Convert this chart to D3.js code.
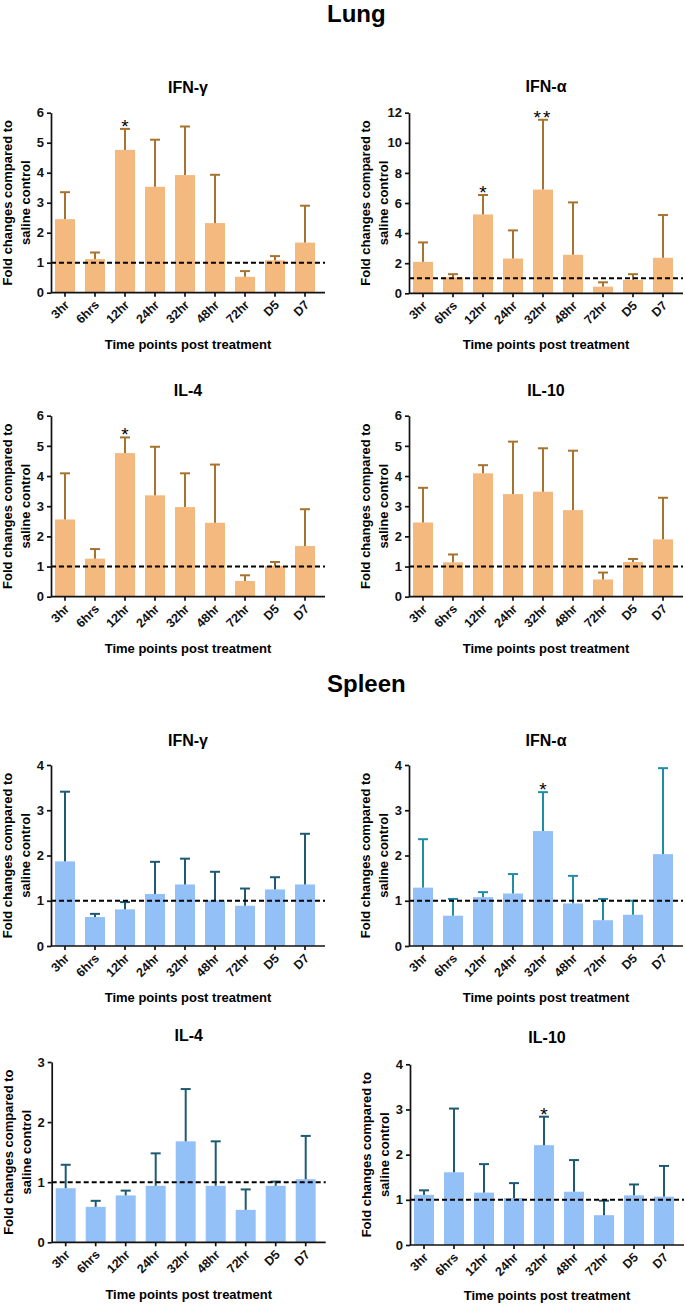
<!DOCTYPE html>
<html>
<head>
<meta charset="utf-8">
<script src="https://cdn.jsdelivr.net/npm/d3@7"></script>
<style>
  body { margin: 0; background: #fff; }
  svg { display: block; font-family: "Liberation Sans", Arial, sans-serif; font-weight: bold; }
</style>
</head>
<body>
<div id="chart"></div>
<script>
// time points on every x axis
const timepoints = ["3hr", "6hrs", "12hr", "24hr", "32hr", "48hr", "72hr", "D5", "D7"];

// Lung (mean fold change, error bar = SEM)
const lungIFNg = [2.45, 1.12, 4.76, 3.53, 3.92, 2.32, 0.53, 1.08, 1.67];
const lungIFNgErr = [0.90, 0.22, 0.70, 1.57, 1.62, 1.61, 0.19, 0.14, 1.23];
const lungIFNgSig = ["", "", "*", "", "", "", "", "", ""];

const lungIFNa = [2.09, 1.07, 5.24, 2.31, 6.89, 2.56, 0.44, 0.89, 2.36];
const lungIFNaErr = [1.29, 0.20, 1.29, 1.87, 4.64, 3.48, 0.29, 0.38, 2.84];
const lungIFNaSig = ["", "", "*", "", "**", "", "", "", ""];

const lungIL4 = [2.56, 1.26, 4.76, 3.36, 2.97, 2.45, 0.52, 1.02, 1.68];
const lungIL4Err = [1.53, 0.32, 0.52, 1.61, 1.12, 1.93, 0.19, 0.13, 1.22];
const lungIL4Sig = ["", "", "*", "", "", "", "", "", ""];

const lungIL10 = [2.46, 1.14, 4.09, 3.40, 3.48, 2.87, 0.57, 1.15, 1.90];
const lungIL10Err = [1.15, 0.26, 0.27, 1.74, 1.44, 1.97, 0.23, 0.10, 1.38];
const lungIL10Sig = ["", "", "", "", "", "", "", "", ""];

// Spleen
const spleenIFNg = [1.87, 0.64, 0.81, 1.15, 1.36, 1.01, 0.89, 1.25, 1.36];
const spleenIFNgErr = [1.54, 0.07, 0.16, 0.71, 0.57, 0.63, 0.38, 0.27, 1.12];
const spleenIFNgSig = ["", "", "", "", "", "", "", "", ""];

const spleenIFNa = [1.29, 0.67, 1.08, 1.16, 2.54, 0.94, 0.57, 0.69, 2.03];
const spleenIFNaErr = [1.07, 0.37, 0.11, 0.43, 0.86, 0.61, 0.47, 0.31, 1.90];
const spleenIFNaSig = ["", "", "", "", "*", "", "", "", ""];

const spleenIL4 = [0.90, 0.59, 0.78, 0.94, 1.68, 0.94, 0.54, 0.94, 1.05];
const spleenIL4Err = [0.39, 0.10, 0.08, 0.54, 0.87, 0.74, 0.34, 0.07, 0.72];
const spleenIL4Sig = ["", "", "", "", "", "", "", "", ""];

const spleenIL10 = [1.11, 1.61, 1.16, 1.04, 2.21, 1.18, 0.66, 1.10, 1.07];
const spleenIL10Err = [0.10, 1.41, 0.63, 0.33, 0.63, 0.70, 0.32, 0.24, 0.68];
const spleenIL10Sig = ["", "", "", "", "*", "", "", "", ""];

const yMax = [6, 12, 6, 6, 4, 4, 3, 4];
const yStep = [1, 2, 1, 1, 1, 1, 1, 1];

const lungFill = "#f3b97f", lungErr = "#a8732f";
const spleenFill = "#94c0f8", spleenErr = "#1e5a72", spleenErr2 = "#1f8da6";

const panels = [
  { title: "IFN-\u03b3", mean: lungIFNg, err: lungIFNgErr, sig: lungIFNgSig, ax: 51, top: 112.7, bottom: 292.7, titleY: 92.7, xTitleY: 349, fill: lungFill, stroke: lungErr },
  { title: "IFN-\u03b1", mean: lungIFNa, err: lungIFNaErr, sig: lungIFNaSig, ax: 409, top: 112.7, bottom: 293.3, titleY: 92, xTitleY: 349, fill: lungFill, stroke: lungErr },
  { title: "IL-4", mean: lungIL4, err: lungIL4Err, sig: lungIL4Sig, ax: 51, top: 415.7, bottom: 596.7, titleY: 395.7, xTitleY: 652.7, fill: lungFill, stroke: lungErr },
  { title: "IL-10", mean: lungIL10, err: lungIL10Err, sig: lungIL10Sig, ax: 409, top: 415.7, bottom: 596.7, titleY: 395.7, xTitleY: 652.7, fill: lungFill, stroke: lungErr },
  { title: "IFN-\u03b3", mean: spleenIFNg, err: spleenIFNgErr, sig: spleenIFNgSig, ax: 51, top: 765, bottom: 946, titleY: 746, xTitleY: 1001.7, fill: spleenFill, stroke: spleenErr },
  { title: "IFN-\u03b1", mean: spleenIFNa, err: spleenIFNaErr, sig: spleenIFNaSig, ax: 409, top: 765, bottom: 946, titleY: 746, xTitleY: 1001.7, fill: spleenFill, stroke: spleenErr2 },
  { title: "IL-4", mean: spleenIL4, err: spleenIL4Err, sig: spleenIL4Sig, ax: 51.7, top: 1062, bottom: 1242.3, titleY: 1040.7, xTitleY: 1299, fill: spleenFill, stroke: spleenErr },
  { title: "IL-10", mean: spleenIL10, err: spleenIL10Err, sig: spleenIL10Sig, ax: 410, top: 1064.3, bottom: 1245, titleY: 1042.7, xTitleY: 1300, fill: spleenFill, stroke: spleenErr }
];

const svg = d3.select("#chart").append("svg")
  .attr("width", 685)
  .attr("height", 1305);

svg.append("text").attr("x", 327).attr("y", 22).attr("font-size", 24).text("Lung");
svg.append("text").attr("x", 327).attr("y", 692).attr("font-size", 24).text("Spleen");

panels.forEach((p, i) => {
  const g = svg.append("g");
  const axisLen = 274;

  const x = d3.scaleBand()
    .domain(timepoints)
    .range([p.ax, p.ax + 268])
    .paddingInner(1 / 3)
    .paddingOuter(0.133);

  const y = d3.scaleLinear()
    .domain([0, yMax[i]])
    .range([p.bottom, p.top]);

  // bars
  g.selectAll("rect.bar")
    .data(p.mean)
    .join("rect")
    .attr("class", "bar")
    .attr("x", (d, j) => x(timepoints[j]))
    .attr("width", x.bandwidth())
    .attr("y", (d) => y(d))
    .attr("height", (d) => y(0) - y(d))
    .attr("fill", p.fill);

  // error bars (upper only)
  const eb = g.selectAll("g.err")
    .data(p.mean)
    .join("g")
    .attr("class", "err")
    .attr("stroke", p.stroke)
    .attr("stroke-width", 2);

  eb.append("line")
    .attr("x1", (d, j) => x(timepoints[j]) + x.bandwidth() / 2)
    .attr("x2", (d, j) => x(timepoints[j]) + x.bandwidth() / 2)
    .attr("y1", (d) => y(d))
    .attr("y2", (d, j) => y(d + p.err[j]));

  eb.append("line")
    .attr("x1", (d, j) => x(timepoints[j]) + x.bandwidth() / 2 - 5)
    .attr("x2", (d, j) => x(timepoints[j]) + x.bandwidth() / 2 + 5)
    .attr("y1", (d, j) => y(d + p.err[j]))
    .attr("y2", (d, j) => y(d + p.err[j]));

  // significance stars
  g.selectAll("text.sig")
    .data(p.sig)
    .join("text")
    .attr("class", "sig")
    .attr("x", (d, j) => x(timepoints[j]) + x.bandwidth() / 2)
    .attr("y", (d, j) => y(p.mean[j] + p.err[j]) + 4)
    .attr("text-anchor", "middle")
    .attr("font-size", 19)
    .attr("font-weight", "normal")
    .attr("letter-spacing", (d) => d.length > 1 ? 2 : 0)
    .text((d) => d);

  // reference line at 1
  g.append("line")
    .attr("x1", p.ax)
    .attr("x2", p.ax + axisLen)
    .attr("y1", y(1))
    .attr("y2", y(1))
    .attr("stroke", "#000")
    .attr("stroke-width", 2)
    .attr("stroke-dasharray", "5,3");

  // y axis
  const yAxis = g.append("g")
    .attr("transform", "translate(" + p.ax + ",0)")
    .call(d3.axisLeft(y)
      .tickValues(d3.range(0, yMax[i] + 0.01, yStep[i]))
      .tickFormat(d3.format("d"))
      .tickSize(4).tickSizeOuter(0).tickPadding(3));
  yAxis.selectAll("text").attr("font-size", 13).attr("font-family", null).attr("fill", "#111");

  // x axis
  const xAxis = g.append("g")
    .attr("transform", "translate(0," + p.bottom + ")")
    .call(d3.axisBottom(x).tickSize(4).tickSizeOuter(0));
  xAxis.select(".domain").attr("d", "M" + p.ax + ",0H" + (p.ax + axisLen));
  xAxis.selectAll("text")
    .attr("font-size", 12.5)
    .attr("font-family", null)
    .attr("fill", "#111")
    .attr("text-anchor", "end")
    .attr("dy", null)
    .attr("y", 0)
    .attr("transform", "translate(5,13) rotate(-45)");

  g.selectAll(".domain, .tick line").attr("stroke", "#111").attr("stroke-width", 1.7);

  // titles
  g.append("text")
    .attr("x", p.ax + axisLen / 2)
    .attr("y", p.titleY)
    .attr("text-anchor", "middle")
    .attr("font-size", 16)
    .text(p.title);

  g.append("text")
    .attr("x", p.ax + axisLen / 2)
    .attr("y", p.xTitleY)
    .attr("text-anchor", "middle")
    .attr("font-size", 13)
    .text("Time points post treatment");

  const cy = (p.top + p.bottom) / 2;
  const yl = g.append("text")
    .attr("transform", "translate(" + (p.ax - 39) + "," + cy + ") rotate(-90)")
    .attr("text-anchor", "middle")
    .attr("font-size", 13);
  yl.append("tspan").attr("x", 0).attr("y", 0).text("Fold changes compared to");
  yl.append("tspan").attr("x", 0).attr("y", 18).text("saline control");
});
</script>
</body>
</html>
